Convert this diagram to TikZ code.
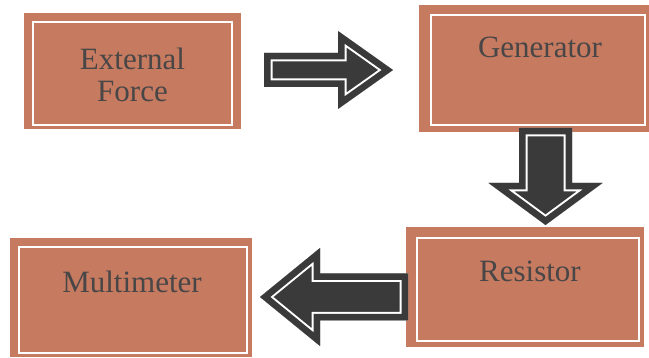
\documentclass[tikz,border=0pt]{standalone}
\usepackage{fontspec}
\setmainfont{Liberation Serif}
\definecolor{boxc}{RGB}{198,122,96}
\definecolor{arrc}{RGB}{58,58,58}
\definecolor{txtc}{RGB}{72,70,70}
\tikzset{
  boxn/.style={fill=boxc, draw=none, anchor=north west, inner sep=0pt, outer sep=0pt},
  innerline/.style={draw=white, line width=2pt},
  lbl/.style={text=txtc, font=\fontsize{31}{32}\selectfont, inner sep=0pt, align=center}
}
% #1 tail coordinate, #2 angle, #3 length, #4 head length, #5 shaft half width, #6 head half width
\newcommand\blockarrow[6]{%
  \begin{scope}[shift={#1}, rotate=#2]
    \fill[arrc] (0,-#5) -- (#3-#4,-#5) -- (#3-#4,-#6) -- (#3,0) -- (#3-#4,#6) -- (#3-#4,#5) -- (0,#5) -- cycle;
    \begin{scope}
      \clip (0,-#5) -- (#3-#4,-#5) -- (#3-#4,-#6) -- (#3,0) -- (#3-#4,#6) -- (#3-#4,#5) -- (0,#5) -- cycle;
      \draw[white, line width=17pt, line join=miter] (0,-#5) -- (#3-#4,-#5) -- (#3-#4,-#6) -- (#3,0) -- (#3-#4,#6) -- (#3-#4,#5) -- (0,#5) -- cycle;
      \draw[arrc, line width=13pt, line join=miter] (0,-#5) -- (#3-#4,-#5) -- (#3-#4,-#6) -- (#3,0) -- (#3-#4,#6) -- (#3-#4,#5) -- (0,#5) -- cycle;
    \end{scope}
  \end{scope}}
\begin{document}
\begin{tikzpicture}[x=1pt, y=-1pt]
  \useasboundingbox[fill=white] (0,0) rectangle (649,358);
  % boxes
  \node[boxn, minimum width=217pt, minimum height=116pt] (ext) at (24,13) {};
  \node[boxn, minimum width=230pt, minimum height=127pt] (gen) at (419,5) {};
  \node[boxn, minimum width=238pt, minimum height=120pt] (res) at (406,227) {};
  \node[boxn, minimum width=242pt, minimum height=119pt] (mult) at (10,238) {};
  \draw[innerline] ([shift={(8.5pt,-9.5pt)}]ext.north west) rectangle ([shift={(-9pt,4pt)}]ext.south east);
  \draw[innerline] ([shift={(12pt,-10pt)}]gen.north west) rectangle ([shift={(-4pt,7pt)}]gen.south east);
  \draw[innerline] ([shift={(11pt,-11pt)}]res.north west) rectangle ([shift={(-5pt,6pt)}]res.south east);
  \draw[innerline] ([shift={(9pt,-9pt)}]mult.north west) rectangle ([shift={(-5pt,4pt)}]mult.south east);
  % labels
  \node[lbl] (extT) at (132.5,75) {External\\Force};
  \node[lbl, anchor=base] (genT) at (540,58) {Generator};
  \node[lbl, anchor=base] (resT) at (530,282) {Resistor};
  \node[lbl, anchor=base] (multT) at (132,293) {Multimeter};
  % block arrows (connectors)
  \coordinate (a1) at ([shift={(23pt,1pt)}]ext.east);
  \coordinate (a2) at ([shift={(11.5pt,4pt)}]gen.south);
  \coordinate (a3) at ([shift={(2pt,-10pt)}]res.west);
  \blockarrow{(a1)}{0}{129}{55}{17}{39}
  \blockarrow{(a2)}{-90}{97}{42}{26.5}{57}
  \blockarrow{(a3)}{180}{148}{60}{23.5}{49}
\end{tikzpicture}
\end{document}
